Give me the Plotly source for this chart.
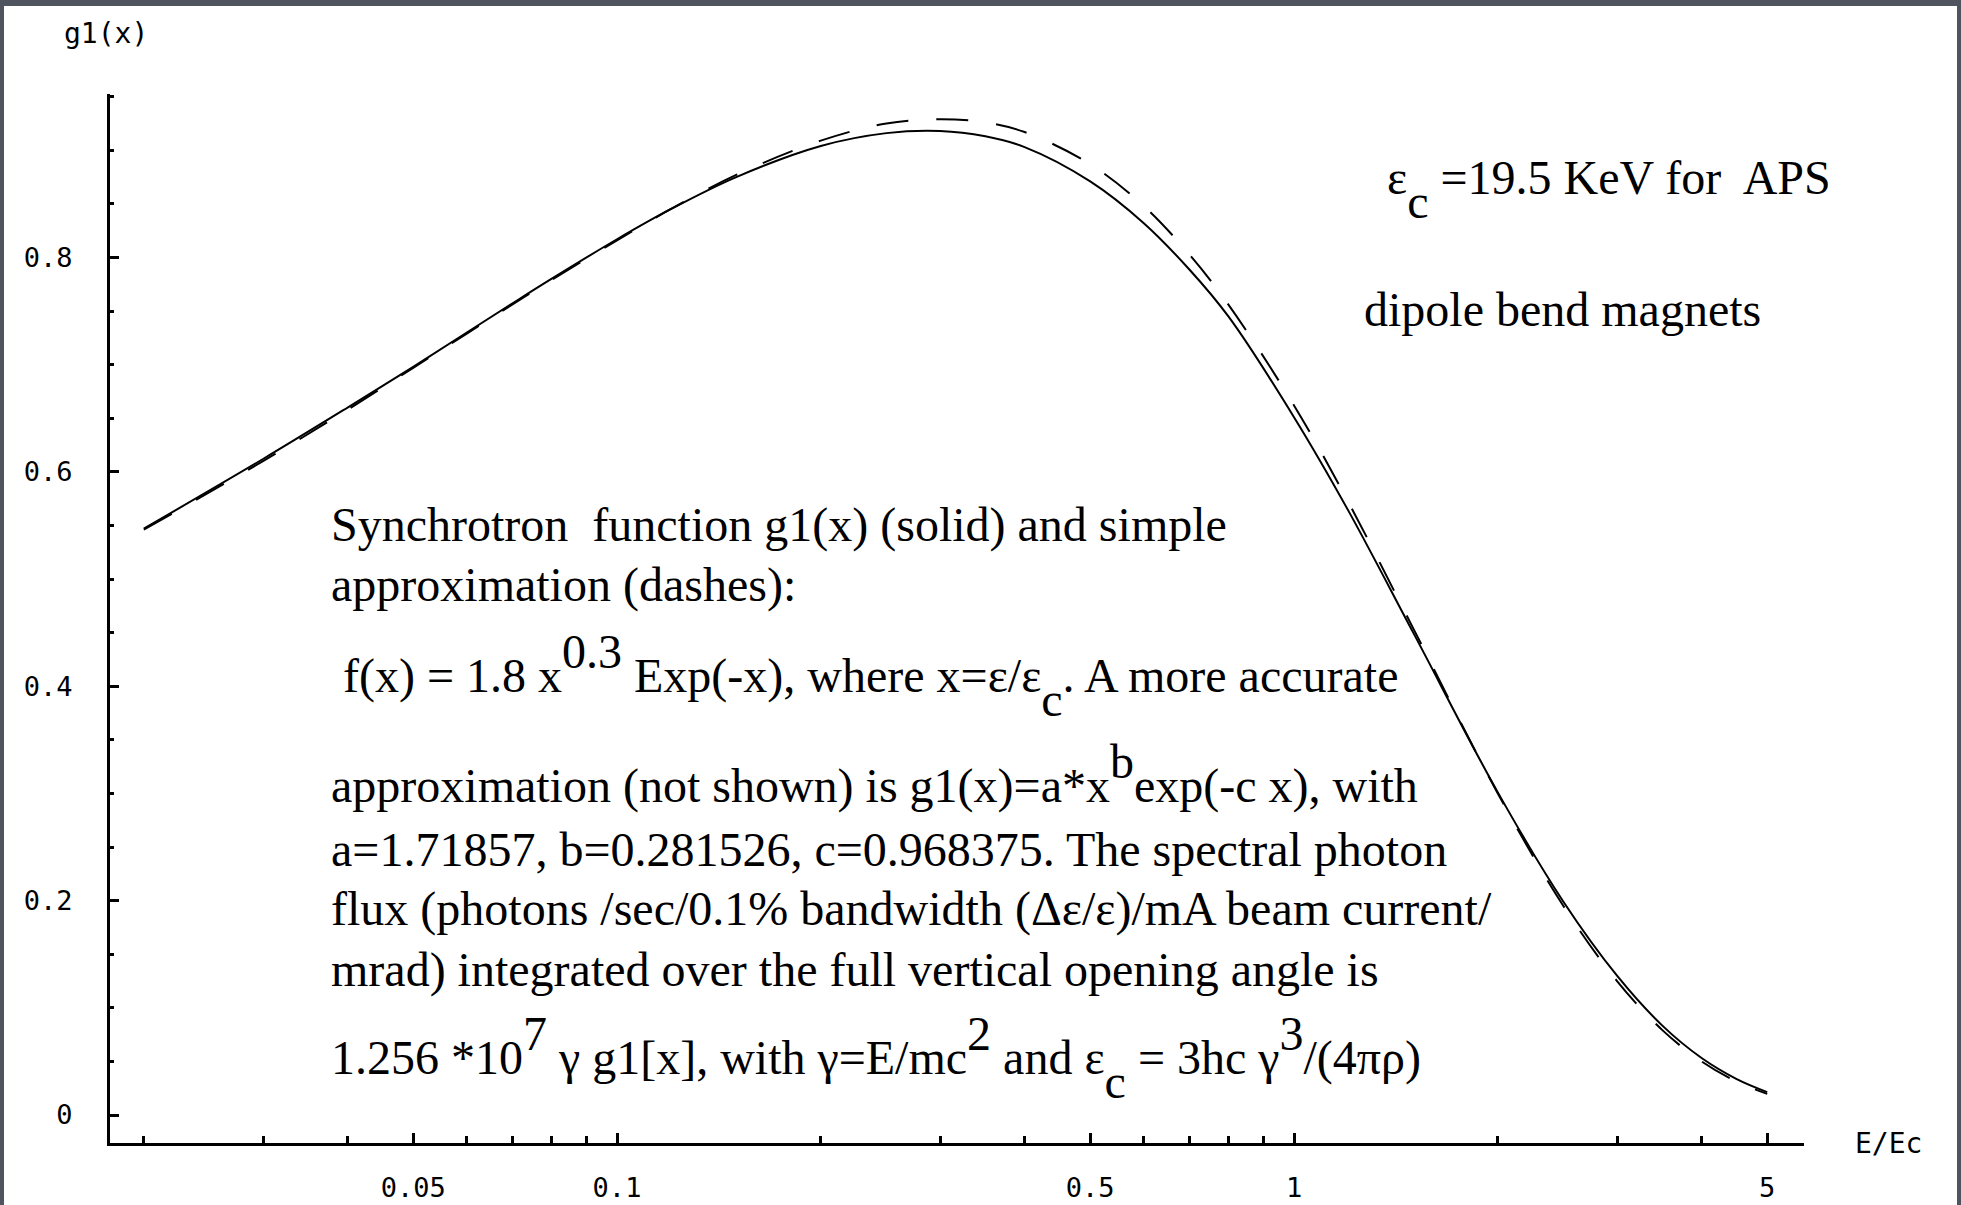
import plotly.graph_objects as go

W, H = 1961, 1205

# ---- data ----
x_vals = [0.02, 0.03, 0.04, 0.05, 0.06, 0.07, 0.08, 0.1, 0.12, 0.15, 0.2, 0.25, 0.3,
          0.35, 0.4, 0.5, 0.6, 0.7, 0.8, 1.0, 1.2, 1.5, 2.0, 2.5, 3.0, 3.5, 4.0, 4.5, 5.0]
g1_solid = [0.547, 0.612, 0.660, 0.698, 0.730, 0.757, 0.780, 0.817, 0.845, 0.875, 0.904,
            0.916, 0.918, 0.913, 0.903, 0.871, 0.832, 0.789, 0.745, 0.651, 0.565, 0.450,
            0.301, 0.199, 0.130, 0.0834, 0.0532, 0.0338, 0.0214]
f_dashed = [0.546, 0.610, 0.658, 0.697, 0.729, 0.756, 0.779, 0.816, 0.845, 0.877, 0.909,
            0.925, 0.929, 0.926, 0.917, 0.887, 0.848, 0.803, 0.756, 0.662, 0.573, 0.454,
            0.300, 0.195, 0.125, 0.0792, 0.0500, 0.0314, 0.0197]

x_major_vals = [0.05, 0.1, 0.5, 1, 5]
x_major_text = ["0.05", "0.1", "0.5", "1", "5"]
x_minor_vals = [0.02, 0.03, 0.04, 0.06, 0.07, 0.08, 0.09, 0.2, 0.3, 0.4,
                0.6, 0.7, 0.8, 0.9, 2, 3, 4]
y_major_vals = [0, 0.2, 0.4, 0.6, 0.8]
y_major_text = ["0", "0.2", "0.4", "0.6", "0.8"]
y_minor_vals = [0.05, 0.1, 0.15, 0.25, 0.3, 0.35, 0.45, 0.5, 0.55, 0.65, 0.7, 0.75,
                0.85, 0.9, 0.95]

# ---- helpers ----
def px(xp):
    return xp / W

def py(yp):
    return 1 - yp / H

def sup(s):
    return '<span style="baseline-shift:24px">' + s + '</span>'

def sub(s):
    return '<span style="baseline-shift:-24px">' + s + '</span>'

SERIF = "Liberation Serif, Times New Roman, serif"
MONO = "DejaVu Sans Mono, monospace"

fig = go.Figure()
fig.add_trace(go.Scatter(x=x_vals, y=g1_solid, mode="lines", line_shape="spline",
                         line=dict(color="black", width=2), showlegend=False))
fig.add_trace(go.Scatter(x=x_vals, y=f_dashed, mode="lines", line_shape="spline",
                         line=dict(color="black", width=2, dash="32px,28px"),
                         showlegend=False))

fig.update_layout(
    width=W, height=H, autosize=False,
    margin=dict(l=0, r=0, t=0, b=0),
    paper_bgcolor="#50545f", plot_bgcolor="white",
    showlegend=False,
    xaxis=dict(
        type="log", range=[-1.7489, 0.7533], domain=[px(110), px(1804)],
        showgrid=False, zeroline=False, showline=True, linecolor="black", linewidth=3,
        tickmode="array", tickvals=x_major_vals, ticktext=x_major_text,
        ticks="inside", ticklen=10, tickwidth=3, tickcolor="black",
        tickfont=dict(family=MONO, size=27, color="black"),
        ticklabelstandoff=19,
        minor=dict(tickmode="array", tickvals=x_minor_vals, ticks="inside", ticklen=7,
                   tickwidth=3, tickcolor="black", showgrid=False),
    ),
    yaxis=dict(
        range=[-0.0261, 0.9525], domain=[py(1143), py(94)],
        showgrid=False, zeroline=False, showline=True, linecolor="black", linewidth=3,
        tickmode="array", tickvals=y_major_vals, ticktext=y_major_text,
        ticks="inside", ticklen=9, tickwidth=3, tickcolor="black",
        tickfont=dict(family=MONO, size=27, color="black"),
        ticklabelstandoff=29,
        minor=dict(tickmode="array", tickvals=y_minor_vals, ticks="inside", ticklen=4,
                   tickwidth=3, tickcolor="black", showgrid=False),
    ),
)

# white slide area inside the dark frame
fig.add_shape(type="rect", xref="paper", yref="paper", x0=px(4), x1=px(1957),
              y0=-0.01, y1=py(6), fillcolor="white", line=dict(width=0), layer="below")

annots = []
def add_text(text, xp, yp, size=48, family=SERIF, xanchor="left"):
    annots.append(dict(text=text, x=px(xp), y=py(yp), xref="paper", yref="paper",
                       xanchor=xanchor, yanchor="middle", showarrow=False,
                       font=dict(family=family, size=size, color="black"),
                       align="left"))

add_text("g1(x)", 106, 33, size=28, family=MONO, xanchor="center")
add_text("E/Ec", 1888, 1143, size=28, family=MONO, xanchor="center")

add_text("ε" + sub("c") + " =19.5 KeV for\u00a0 APS", 1385, 189)
add_text("dipole bend magnets", 1362, 310)

add_text("Synchrotron\u00a0 function g1(x) (solid) and simple", 329, 525)
add_text("approximation (dashes):", 329, 585)
add_text("\u00a0f(x) = 1.8 x" + sup("0.3") + " Exp(-x), where x=ε/ε" + sub("c") +
         ". A more accurate", 329, 675)
add_text("approximation (not shown) is g1(x)=a*x" + sup("b") + "exp(-c x), with", 329, 774)
add_text("a=1.71857, b=0.281526, c=0.968375. The spectral photon", 329, 849)
add_text("flux (photons /sec/0.1% bandwidth (Δε/ε)/mA beam current/", 329, 909)
add_text("mrad) integrated over the full vertical opening angle is", 329, 970)
add_text("1.256 *10" + sup("7") + " γ g1[x], with γ=E/mc" + sup("2") + " and ε" + sub("c") +
         " = 3hc γ" + sup("3") + "/(4πρ)", 329, 1057)

fig.update_layout(annotations=annots)

fig.write_html("out.html")
